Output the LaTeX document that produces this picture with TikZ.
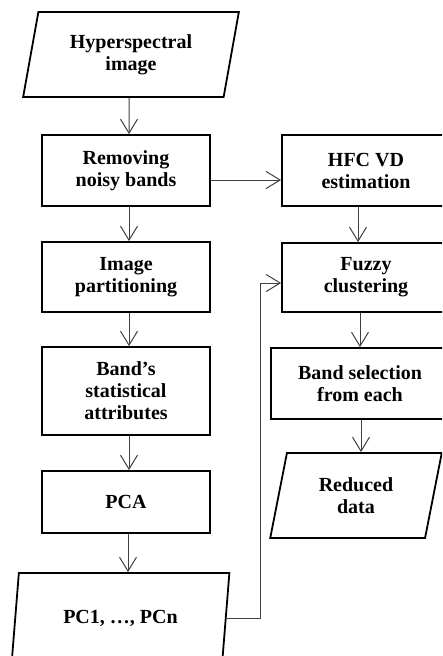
\documentclass[tikz,border=0pt]{standalone}
\usepackage{fontspec}
\setmainfont{Liberation Serif}
\usetikzlibrary{shapes.geometric,arrows.meta,calc}
\begin{document}
\begin{tikzpicture}[x=1pt,y=-1pt,
  txt/.style={font=\fontsize{20}{22}\selectfont\bfseries, align=center, inner sep=0pt},
  procbox/.style={txt, draw=black, line width=1.8pt, rectangle, minimum width=168pt},
  databox/.style={txt, draw=black, line width=1.8pt, trapezium, trapezium left angle=76, trapezium right angle=104, trapezium stretches=true},
  arr/.style={draw=black!75, line width=1pt, -{Straight Barb[length=14pt,width=17pt]}}]
\useasboundingbox (0,0) rectangle (442,656);
\clip (0,0) rectangle (442,656);
% left column
\node[databox, minimum width=216pt, minimum height=85pt] (hyper) at (131,54.5) {Hyperspectral\\image};
\node[procbox, minimum height=71pt] (remove) at (126,170.5) {Removing\\noisy bands};
\node[procbox, minimum height=70pt] (imgpart) at (126,277) {Image\\partitioning};
\node[procbox, minimum height=88pt] (bandstat) at (126,391) {Band’s\\statistical\\attributes};
\node[procbox, minimum height=62pt] (pca) at (126,502) {PCA};
\node[databox, minimum width=218pt, minimum height=90pt] (pc) at (120.5,618) {PC1, …, PCn};
% right column
\node[procbox, minimum height=71pt] (hfc) at (366,170.5) {HFC VD\\estimation};
\node[procbox, minimum height=69pt] (fuzzy) at (366,277.5) {Fuzzy\\clustering};
\node[procbox, minimum width=178pt, minimum height=71pt] (bandsel) at (360,383.5) {Band selection\\from each};
\node[databox, minimum width=172pt, minimum height=85pt] (reduced) at (356,495.5) {Reduced\\data};
\coordinate (fb) at (260,283);
% connectors
\draw[arr] ([xshift=-2pt]hyper.south) -- ([xshift=3pt]remove.north);
\draw[arr] ([xshift=3pt]remove.south) -- ([xshift=3pt]imgpart.north);
\draw[arr] ([xshift=3pt]imgpart.south) -- ([xshift=3pt]bandstat.north);
\draw[arr] ([xshift=3pt]bandstat.south) -- ([xshift=3pt]pca.north);
\draw[arr] ([xshift=2pt]pca.south) -- ([xshift=2pt]pca.south |- pc.north);
\draw[arr] ([yshift=-9.5pt]remove.east) -- ([yshift=-9.5pt]hfc.west);
\draw[arr] ([xshift=-8pt]hfc.south) -- ([xshift=-8pt]fuzzy.north);
\draw[arr] ([xshift=-6pt]fuzzy.south) -- ([xshift=-6pt]fuzzy.south |- bandsel.north);
\draw[arr] ([xshift=1pt]bandsel.south) -- ([xshift=1pt]bandsel.south |- reduced.north);
\draw[arr] (pc.east) -| (fb) -- (fb -| fuzzy.west);
\end{tikzpicture}
\end{document}
